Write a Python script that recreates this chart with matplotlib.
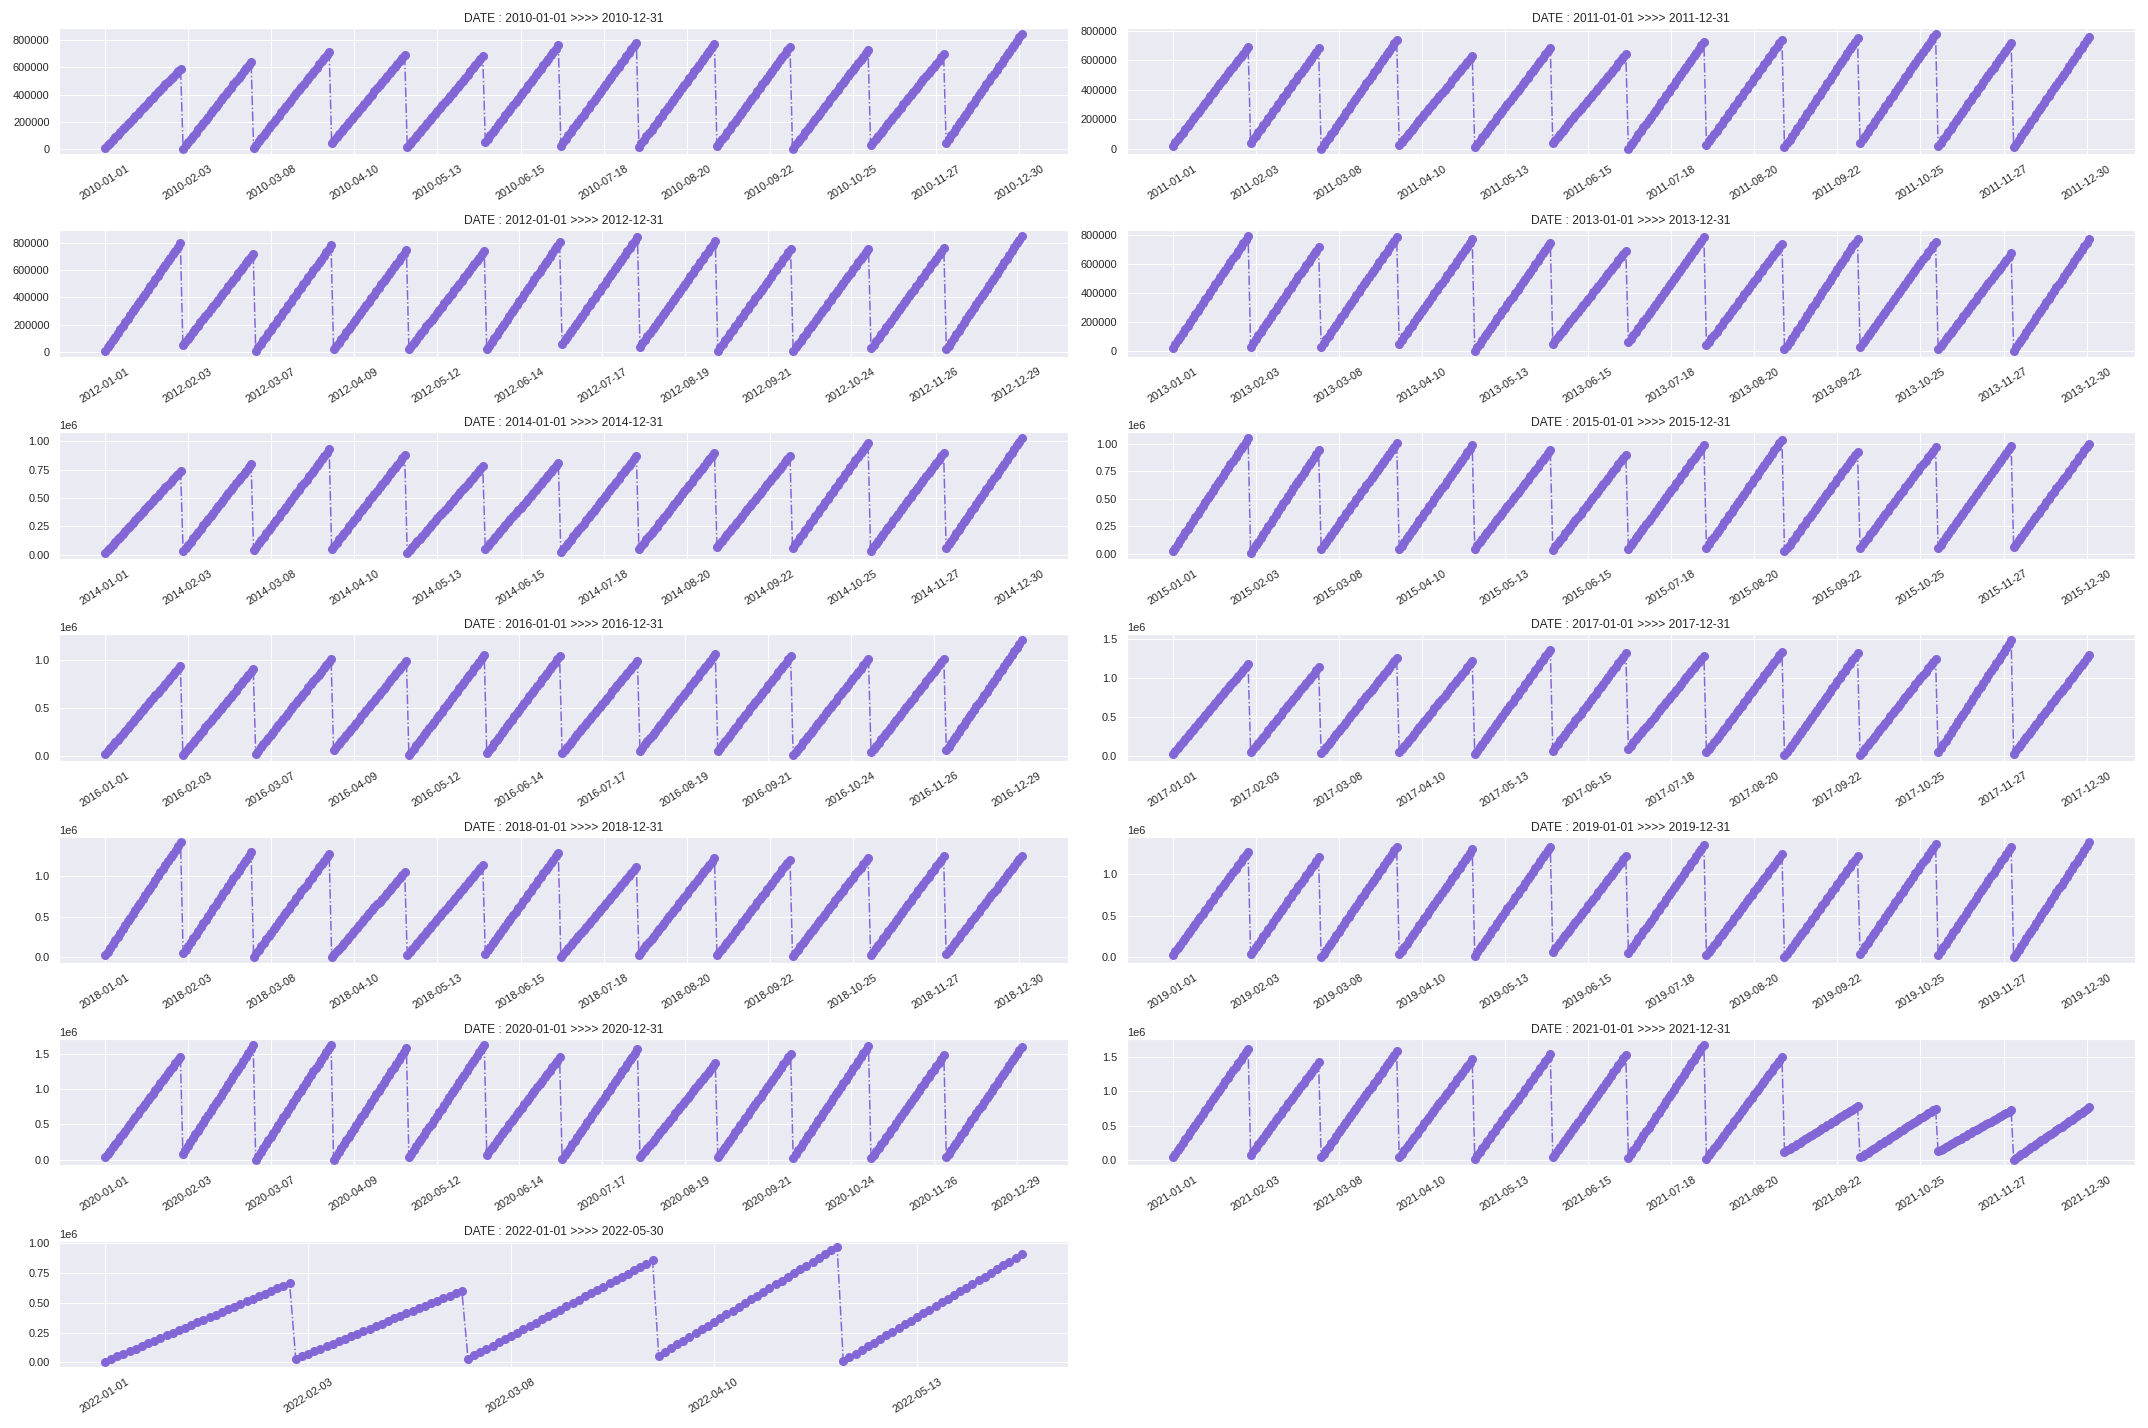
import numpy as np
import pandas as pd
import matplotlib
matplotlib.use('Agg')
import matplotlib.pyplot as plt
import matplotlib.dates as mdates
import seaborn as sns

sns.set_theme(style="darkgrid")
plt.rcParams['font.family'] = ['Liberation Sans', 'DejaVu Sans']

# valeurs : cumul au 1er jour et au dernier jour de chaque mois
start_2010 = [10000, 5000, 12000, 45000, 15000, 55000, 28000, 20000, 25000, 5000, 30000, 50000]
peak_2010 = [590000, 640000, 715000, 690000, 680000, 760000, 780000, 770000, 750000, 725000, 695000, 845000]

start_2011 = [20000, 40000, 0, 25000, 10000, 40000, 0, 25000, 10000, 40000, 15000, 10000]
peak_2011 = [690000, 680000, 740000, 630000, 685000, 640000, 725000, 740000, 750000, 780000, 720000, 760000]

start_2012 = [10000, 50000, 10000, 20000, 20000, 20000, 60000, 40000, 10000, 10000, 30000, 20000]
peak_2012 = [795000, 720000, 780000, 745000, 740000, 805000, 840000, 810000, 755000, 755000, 760000, 850000]

start_2013 = [20000, 30000, 30000, 50000, 0, 50000, 60000, 40000, 10000, 30000, 10000, 0]
peak_2013 = [795000, 718000, 788000, 770000, 748000, 692000, 785000, 740000, 775000, 755000, 675000, 775000]

start_2014 = [15000, 30000, 40000, 50000, 15000, 50000, 20000, 50000, 70000, 60000, 35000, 60000]
peak_2014 = [740000, 800000, 930000, 880000, 780000, 810000, 870000, 900000, 870000, 990000, 900000, 1030000]

start_2015 = [20000, 5000, 45000, 40000, 45000, 35000, 45000, 55000, 20000, 55000, 50000, 60000]
peak_2015 = [1050000, 940000, 1005000, 985000, 940000, 900000, 985000, 1035000, 925000, 965000, 980000, 1000000]

start_2016 = [20000, 10000, 25000, 60000, 10000, 30000, 35000, 55000, 55000, 10000, 40000, 60000]
peak_2016 = [940000, 910000, 1015000, 995000, 1055000, 1045000, 995000, 1065000, 1045000, 1015000, 1015000, 1210000]

start_2017 = [20000, 40000, 30000, 40000, 15000, 65000, 90000, 40000, 5000, 10000, 45000, 25000]
peak_2017 = [1180000, 1140000, 1260000, 1220000, 1370000, 1320000, 1290000, 1340000, 1320000, 1250000, 1490000, 1300000]

start_2018 = [25000, 50000, 10000, 0, 25000, 45000, 0, 30000, 25000, 15000, 25000, 40000]
peak_2018 = [1410000, 1290000, 1270000, 1045000, 1130000, 1285000, 1105000, 1215000, 1200000, 1220000, 1240000, 1245000]

start_2019 = [30000, 35000, 0, 35000, 20000, 70000, 55000, 25000, 0, 45000, 30000, 0]
peak_2019 = [1275000, 1205000, 1335000, 1300000, 1335000, 1220000, 1350000, 1240000, 1215000, 1365000, 1335000, 1385000]

start_2020 = [30000, 80000, 0, 0, 30000, 70000, 10000, 30000, 30000, 25000, 15000, 30000]
peak_2020 = [1460000, 1620000, 1630000, 1575000, 1630000, 1450000, 1560000, 1365000, 1500000, 1610000, 1475000, 1600000]

start_2021 = [30000, 70000, 35000, 35000, 15000, 30000, 25000, 15000, 110000, 30000, 120000, 0]
peak_2021 = [1630000, 1430000, 1590000, 1475000, 1545000, 1540000, 1690000, 1505000, 780000, 750000, 725000, 765000]

start_2022 = [5000, 30000, 30000, 55000, 10000]
peak_2022 = [665000, 600000, 855000, 970000, 905000]

panels = [
    ("2010-01-01", "2010-12-31", start_2010, peak_2010),
    ("2011-01-01", "2011-12-31", start_2011, peak_2011),
    ("2012-01-01", "2012-12-31", start_2012, peak_2012),
    ("2013-01-01", "2013-12-31", start_2013, peak_2013),
    ("2014-01-01", "2014-12-31", start_2014, peak_2014),
    ("2015-01-01", "2015-12-31", start_2015, peak_2015),
    ("2016-01-01", "2016-12-31", start_2016, peak_2016),
    ("2017-01-01", "2017-12-31", start_2017, peak_2017),
    ("2018-01-01", "2018-12-31", start_2018, peak_2018),
    ("2019-01-01", "2019-12-31", start_2019, peak_2019),
    ("2020-01-01", "2020-12-31", start_2020, peak_2020),
    ("2021-01-01", "2021-12-31", start_2021, peak_2021),
    ("2022-01-01", "2022-05-30", start_2022, peak_2022),
]

COLOR = '#8366d6'


def cumul_mensuel(debut, fin, starts, peaks):
    jours = pd.date_range(debut, fin, freq='D')
    valeurs = np.zeros(len(jours))
    for m, (s, p) in enumerate(zip(starts, peaks)):
        masque = jours.month == m + 1
        valeurs[masque] = np.linspace(s, p, masque.sum())
    return jours, valeurs


fig = plt.figure(figsize=(2148 / 72, 1428 / 72), dpi=72)

for i, (debut, fin, starts, peaks) in enumerate(panels):
    ax = fig.add_subplot(7, 2, i + 1)
    jours, valeurs = cumul_mensuel(debut, fin, starts, peaks)
    ax.plot(jours, valeurs, linestyle='-.', marker='o', color=COLOR,
            markersize=8, linewidth=1.5)
    ax.set_title(f"DATE : {debut} >>>> {fin}", fontsize=12)
    ax.set_xticks(pd.date_range(debut, fin, freq='33D'))
    ax.xaxis.set_major_formatter(mdates.DateFormatter('%Y-%m-%d'))
    ax.tick_params(axis='x', labelrotation=32, labelsize=11)
    ax.tick_params(axis='y', labelsize=11)

plt.tight_layout()
plt.savefig("out.png", dpi=72)
plt.close()
